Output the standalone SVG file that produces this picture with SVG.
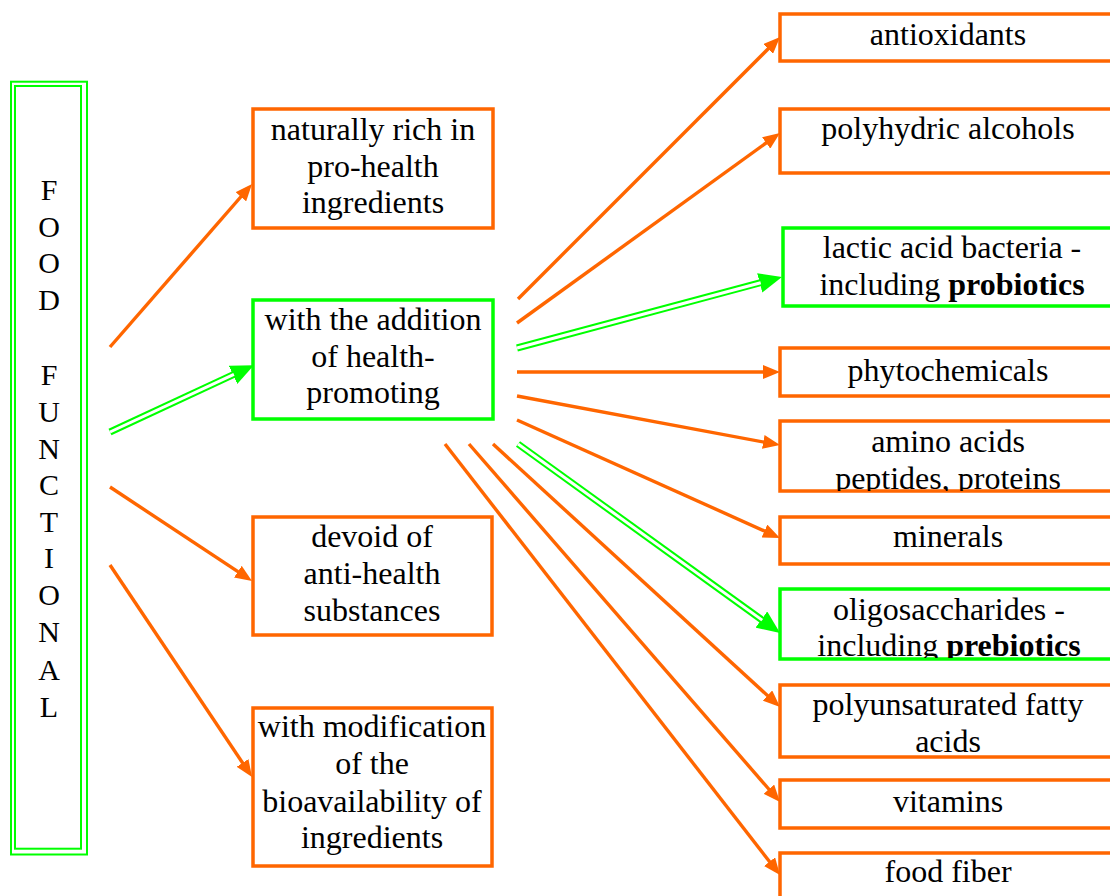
<svg xmlns="http://www.w3.org/2000/svg" width="1110" height="896" viewBox="0 0 1110 896">
<style>
text{font-family:"Liberation Serif","Times New Roman",serif;font-size:32px;fill:#000;text-anchor:middle}
.v{font-size:30px}
.o{fill:#fff;stroke:#FF6600;stroke-width:3.5}
.g{fill:#fff;stroke:#00FF00;stroke-width:3.5}
.ol{fill:none;stroke:#FF6600;stroke-width:3.4;marker-end:url(#ao)}
.gl{fill:none;stroke:#00FF00;stroke-width:7;marker-end:url(#ag)}
.wl{fill:none;stroke:#fff;stroke-width:3}
.b{font-weight:bold}
</style>
<defs>
<marker id="ao" markerUnits="userSpaceOnUse" markerWidth="18" markerHeight="14" refX="11" refY="7" orient="auto"><path d="M0,0 L17,7 L0,14 z" fill="#FF6600"/></marker>
<marker id="ag" markerUnits="userSpaceOnUse" markerWidth="24" markerHeight="20" refX="1" refY="10" orient="auto"><path d="M0,0 L23,10 L0,20 z" fill="#00FF00"/></marker>
<clipPath id="cAmino"><rect x="780" y="421" width="340" height="70"/></clipPath>
<clipPath id="cOligo"><rect x="780" y="589" width="340" height="69"/></clipPath>
</defs>

<g id="food-functional">
<rect x="11" y="81.7" width="76" height="772.8" fill="#fff" stroke="#00FF00" stroke-width="2"/>
<rect x="15" y="86" width="66" height="762.7" fill="none" stroke="#00FF00" stroke-width="2"/>
<text class="v" x="49" y="200">F</text>
<text class="v" x="49" y="237">O</text>
<text class="v" x="49" y="273">O</text>
<text class="v" x="49" y="310">D</text>
<text class="v" x="49" y="385">F</text>
<text class="v" x="49" y="422">U</text>
<text class="v" x="49" y="459">N</text>
<text class="v" x="49" y="495">C</text>
<text class="v" x="49" y="532">T</text>
<text class="v" x="49" y="568">I</text>
<text class="v" x="49" y="605">O</text>
<text class="v" x="49" y="642">N</text>
<text class="v" x="49" y="680">A</text>
<text class="v" x="49" y="717">L</text>
</g>

<g id="naturally-rich">
<rect class="o" x="253" y="109" width="240" height="119"/>
<text x="373" y="140">naturally rich in</text>
<text x="373" y="177">pro-health</text>
<text x="373" y="213">ingredients</text>
</g>
<g id="with-addition">
<rect class="g" x="253" y="300" width="240" height="119"/>
<text x="373" y="330">with the addition</text>
<text x="373" y="367">of health-</text>
<text x="373" y="403">promoting</text>
</g>
<g id="devoid">
<rect class="o" x="253" y="517" width="239" height="118"/>
<text x="372" y="547">devoid of</text>
<text x="372" y="584">anti-health</text>
<text x="372" y="621">substances</text>
</g>
<g id="modification">
<rect class="o" x="253" y="708" width="239" height="158"/>
<text x="372" y="737">with modification</text>
<text x="372" y="774">of the</text>
<text x="372" y="812">bioavailability of</text>
<text x="372" y="848">ingredients</text>
</g>

<g id="antioxidants">
<rect class="o" x="780" y="14" width="340" height="47"/>
<text x="948" y="45">antioxidants</text>
</g>
<g id="polyhydric">
<rect class="o" x="780" y="109" width="340" height="64"/>
<text x="948" y="139">polyhydric alcohols</text>
</g>
<g id="lactic">
<rect class="g" x="783" y="228" width="340" height="78"/>
<text x="952" y="258">lactic acid bacteria -</text>
<text x="952" y="295">including <tspan class="b">probiotics</tspan></text>
</g>
<g id="phytochemicals">
<rect class="o" x="780" y="348" width="340" height="48"/>
<text x="948" y="381">phytochemicals</text>
</g>
<g id="amino">
<rect class="o" x="780" y="421" width="340" height="70"/>
<g clip-path="url(#cAmino)">
<text x="948" y="452">amino acids</text>
<text x="948" y="489">peptides, proteins</text>
</g>
</g>
<g id="minerals">
<rect class="o" x="780" y="517" width="340" height="47"/>
<text x="948" y="547">minerals</text>
</g>
<g id="oligo">
<rect class="g" x="780" y="589" width="340" height="70"/>
<g clip-path="url(#cOligo)">
<text x="949" y="620">oligosaccharides -</text>
<text x="949" y="656">including <tspan class="b">prebiotics</tspan></text>
</g>
</g>
<g id="pufa">
<rect class="o" x="780" y="685" width="340" height="72"/>
<text x="948" y="715">polyunsaturated fatty</text>
<text x="948" y="752">acids</text>
</g>
<g id="vitamins">
<rect class="o" x="780" y="780" width="340" height="48"/>
<text x="948" y="812">vitamins</text>
</g>
<g id="fiber">
<rect class="o" x="780" y="853" width="340" height="60"/>
<text x="948" y="882">food fiber</text>
</g>

<g id="connectors">
<path class="ol" d="M110,347 L248.1,188.5"/>
<path class="ol" d="M110,487 L247,577.7"/>
<path class="ol" d="M110,565 L248.7,772"/>
<path class="gl" d="M110,432 L233.9,374.4"/>
<path class="wl" d="M110,432 L233.9,374.4"/>

<path class="ol" d="M518,299 L775.8,41.2"/>
<path class="ol" d="M517,323 L775.1,136.5"/>
<path class="gl" d="M517,348 L760.7,282.7"/>
<path class="wl" d="M517,348 L760.7,282.7"/>
<path class="ol" d="M517,372 L774,372"/>
<path class="ol" d="M517,396 L774.1,444"/>
<path class="ol" d="M517,420 L774.5,535.5"/>
<path class="gl" d="M518,444 L762.2,620.1"/>
<path class="wl" d="M518,444 L762.2,620.1"/>
<path class="ol" d="M493,444 L775.6,703"/>
<path class="ol" d="M469,444 L776.1,797.5"/>
<path class="ol" d="M445,444 L776.3,870.3"/>
</g>
</svg>
